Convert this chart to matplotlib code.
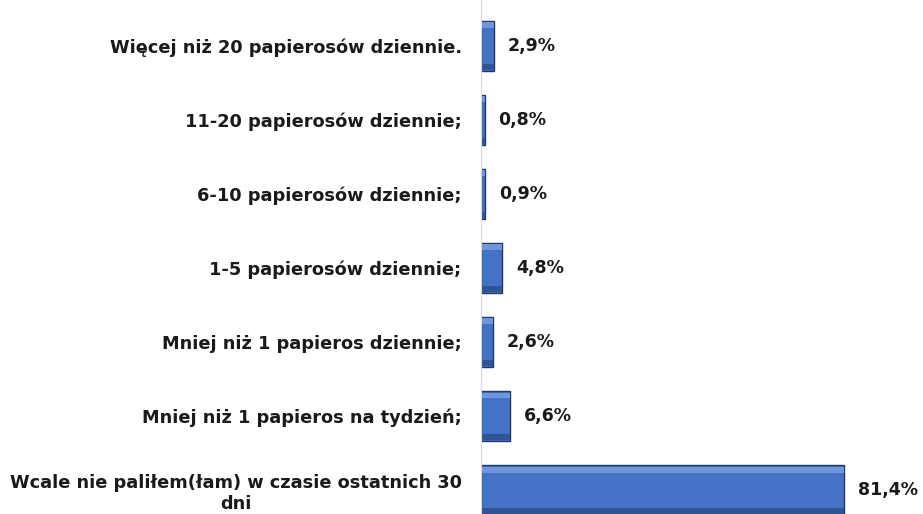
import matplotlib.pyplot as plt
import numpy as np

plt.rcParams['font.family'] = ['DejaVu Sans']

# answers, bottom to top
categories = [
    "Wcale nie paliłem(łam) w czasie ostatnich 30\ndni",
    "Mniej niż 1 papieros na tydzień;",
    "Mniej niż 1 papieros dziennie;",
    "1-5 papierosów dziennie;",
    "6-10 papierosów dziennie;",
    "11-20 papierosów dziennie;",
    "Więcej niż 20 papierosów dziennie.",
]
values = [81.4, 6.6, 2.6, 4.8, 0.9, 0.8, 2.9]
labels = ["81,4%", "6,6%", "2,6%", "4,8%", "0,9%", "0,8%", "2,9%"]

fig = plt.figure(figsize=(9.23, 5.14), dpi=100)
ax = fig.add_axes([481 / 923, 0.0, 410 / 923, 1.0])

y = np.arange(len(categories))
h = 0.68
ax.barh(y, values, height=h, color='#4472C4', edgecolor='#203864', linewidth=1.0)
# bevel: lighter band at top, darker band at bottom
ax.barh(y + h / 2 - 0.06, values, height=0.08, color='#6F95DA', linewidth=0)
ax.barh(y - h / 2 + 0.06, values, height=0.08, color='#2F5597', linewidth=0)

for yi, v, lab in zip(y, values, labels):
    ax.annotate(lab, (v, yi), xytext=(10, 0), textcoords='offset points',
                va='center', ha='left', fontsize=12.5, fontweight='bold',
                color='#1a1a1a')

ax.set_xlim(0, 92)
ax.set_ylim(-0.32, 6.62)
ax.set_xticks([])
ax.set_yticks(y)
ax.set_yticklabels(categories, fontsize=12.8, fontweight='bold', color='#1a1a1a',
                   linespacing=1.2)
for t in ax.get_yticklabels():
    t.set_multialignment('center')
ax.tick_params(axis='y', length=0, pad=14)
for s in ['top', 'right', 'bottom']:
    ax.spines[s].set_visible(False)
ax.spines['left'].set_color('#d9d9d9')

fig.savefig('out.png', dpi=100, facecolor='white')
